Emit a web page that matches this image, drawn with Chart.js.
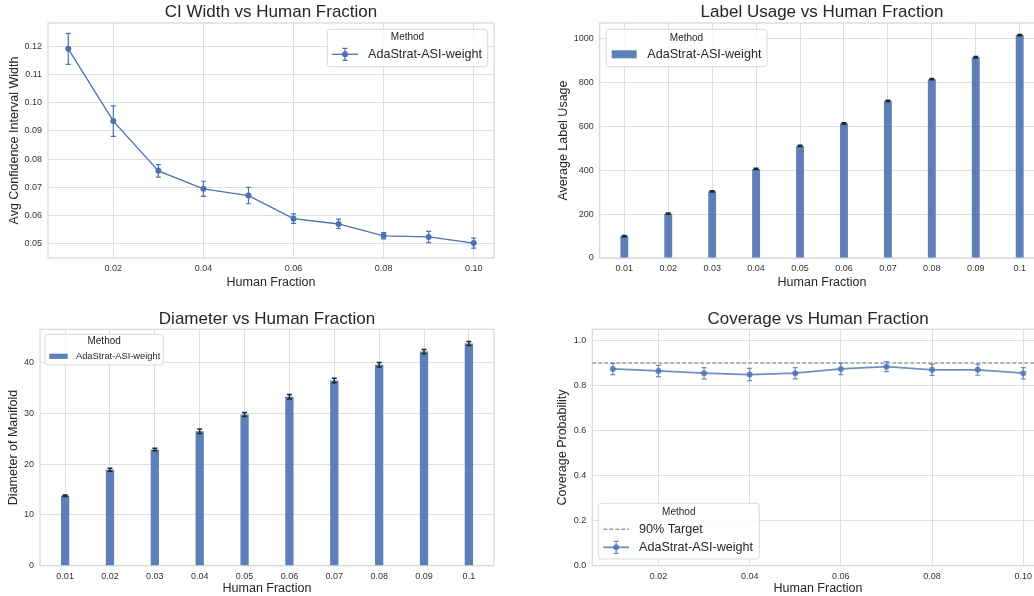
<!DOCTYPE html>
<html>
<head>
<meta charset="utf-8">
<script src="https://cdn.jsdelivr.net/npm/chart.js@4.4.1/dist/chart.umd.min.js"></script>
<style>
  html, body { margin: 0; padding: 0; width: 1034px; height: 596px; overflow: hidden; background: #fff; }
  canvas { position: absolute; }
</style>
</head>
<body>
<canvas id="ci-width" width="517" height="298" style="left:0;top:0"></canvas>
<canvas id="label-usage" width="540" height="298" style="left:520px;top:0"></canvas>
<canvas id="diameter" width="517" height="298" style="left:0;top:298px"></canvas>
<canvas id="coverage" width="540" height="298" style="left:520px;top:298px"></canvas>
<script>
// data
const fractions = [0.01, 0.02, 0.03, 0.04, 0.05, 0.06, 0.07, 0.08, 0.09, 0.10];
const fractionLabels = ["0.01", "0.02", "0.03", "0.04", "0.05", "0.06", "0.07", "0.08", "0.09", "0.1"];

const ciWidth = [0.1192, 0.0935, 0.0758, 0.0694, 0.0670, 0.0588, 0.0569, 0.0527, 0.0523, 0.0501];
const ciWidthErr = [0.0055, 0.0054, 0.0022, 0.0027, 0.0029, 0.0017, 0.0017, 0.0011, 0.0020, 0.0018];

const labelUsage = [100, 202, 304, 406, 511, 613, 716, 815, 915, 1016];
const labelUsageErr = [3, 3, 3, 3, 3, 3, 3, 3, 3, 3];

const diameter = [13.8, 18.9, 22.9, 26.5, 29.8, 33.3, 36.5, 39.6, 42.2, 43.8];
const diameterErr = [0.15, 0.3, 0.25, 0.45, 0.4, 0.45, 0.45, 0.45, 0.4, 0.4];

const coverage = [0.874, 0.865, 0.855, 0.849, 0.855, 0.874, 0.884, 0.870, 0.870, 0.855];
const coverageErr = [0.025, 0.025, 0.025, 0.027, 0.025, 0.025, 0.022, 0.025, 0.024, 0.025];
const targetCoverage = 0.9;

// tick values
const ciTicks = [0.05, 0.06, 0.07, 0.08, 0.09, 0.10, 0.11, 0.12];
const fractionTicks = [0.02, 0.04, 0.06, 0.08, 0.10];
const usageTicks = [0, 200, 400, 600, 800, 1000];
const diameterTicks = [0, 10, 20, 30, 40];
const coverageTicks = [0, 0.2, 0.4, 0.6, 0.8, 1.0];
const categoryTicks = fractions.map((f, i) => i);

const FONT = "'Liberation Sans', Arial, Helvetica, sans-serif";
const BLUE = "#4C72B0";
const BLUE_SOFT = "rgba(76,114,176,0.8)";
const BAR_BLUE = "rgba(76,114,176,0.9)";
const GRID = "#dedede";
const TEXT = "#262626";

Chart.defaults.font.family = FONT;
Chart.defaults.color = "#333";
Chart.defaults.animation = false;
Chart.defaults.responsive = false;
Chart.defaults.plugins.legend.display = false;
Chart.defaults.plugins.tooltip.enabled = false;

// light frame round the plot area (seaborn whitegrid spines)
const framePlugin = {
    id: "frame",
    beforeDatasetsDraw(chart) {
        const a = chart.chartArea;
        const ctx = chart.ctx;
        ctx.save();
        ctx.strokeStyle = "#d6d6d6";
        ctx.lineWidth = 1.2;
        ctx.strokeRect(a.left, a.top, a.right - a.left, a.bottom - a.top);
        ctx.restore();
    },
};

function errorBars(values, errors, color, width, cap) {
    return {
        id: "errorBars",
        afterDatasetsDraw(chart) {
            const ctx = chart.ctx;
            const y = chart.scales.y;
            const pts = chart.getDatasetMeta(0).data;
            ctx.save();
            ctx.strokeStyle = color;
            ctx.lineWidth = width;
            pts.forEach((el, i) => {
                const top = y.getPixelForValue(values[i] + errors[i]);
                const bot = y.getPixelForValue(values[i] - errors[i]);
                ctx.beginPath();
                ctx.moveTo(el.x, top);
                ctx.lineTo(el.x, bot);
                ctx.moveTo(el.x - cap, top);
                ctx.lineTo(el.x + cap, top);
                ctx.moveTo(el.x - cap, bot);
                ctx.lineTo(el.x + cap, bot);
                ctx.stroke();
            });
            ctx.restore();
        },
    };
}

function hLine(value, color, dash) {
    return {
        id: "hLine",
        beforeDatasetsDraw(chart) {
            const ctx = chart.ctx;
            const a = chart.chartArea;
            const py = chart.scales.y.getPixelForValue(value);
            ctx.save();
            ctx.strokeStyle = color;
            ctx.lineWidth = 1.5;
            ctx.setLineDash(dash);
            ctx.beginPath();
            ctx.moveTo(a.left, py);
            ctx.lineTo(a.right, py);
            ctx.stroke();
            ctx.restore();
        },
    };
}

// matplotlib-like legend box with a "Method" title
function boxLegend(spec) {
    return {
        id: "boxLegend",
        afterDraw(chart) {
            const ctx = chart.ctx;
            const a = chart.chartArea;
            const left = spec.corner[1] === "l" ? a.left + spec.dx : a.right - spec.dx - spec.w;
            const top = spec.corner[0] === "t" ? a.top + spec.dy : a.bottom - spec.dy - spec.h;
            ctx.save();
            ctx.beginPath();
            if (ctx.roundRect) ctx.roundRect(left, top, spec.w, spec.h, 3);
            else ctx.rect(left, top, spec.w, spec.h);
            ctx.fillStyle = "rgba(255,255,255,0.8)";
            ctx.fill();
            ctx.strokeStyle = "#d9d9d9";
            ctx.lineWidth = 1;
            ctx.stroke();

            ctx.fillStyle = TEXT;
            ctx.textBaseline = "middle";
            ctx.textAlign = "center";
            ctx.font = spec.titleSize + "px " + FONT;
            ctx.fillText("Method", left + spec.w / 2, top + spec.titleY);

            spec.rows.forEach((row) => {
                const y = top + row.y;
                const x0 = left + spec.hx0;
                const x1 = left + spec.hx1;
                const xm = (x0 + x1) / 2;
                if (row.kind === "bar") {
                    ctx.fillStyle = BAR_BLUE;
                    ctx.fillRect(x0, y - spec.barH / 2, x1 - x0, spec.barH);
                } else if (row.kind === "dash") {
                    ctx.strokeStyle = "#9a9a9a";
                    ctx.lineWidth = 1.5;
                    ctx.setLineDash([4, 2]);
                    ctx.beginPath();
                    ctx.moveTo(x0, y);
                    ctx.lineTo(x1, y);
                    ctx.stroke();
                    ctx.setLineDash([]);
                } else {
                    ctx.strokeStyle = row.color;
                    ctx.fillStyle = row.color;
                    ctx.lineWidth = row.width;
                    ctx.beginPath();
                    ctx.moveTo(x0, y);
                    ctx.lineTo(x1, y);
                    ctx.stroke();
                    ctx.lineWidth = 1.2;
                    ctx.beginPath();
                    ctx.moveTo(xm, y - 6);
                    ctx.lineTo(xm, y + 6);
                    ctx.moveTo(xm - 2.5, y - 6);
                    ctx.lineTo(xm + 2.5, y - 6);
                    ctx.moveTo(xm - 2.5, y + 6);
                    ctx.lineTo(xm + 2.5, y + 6);
                    ctx.stroke();
                    ctx.beginPath();
                    ctx.arc(xm, y, 3, 0, Math.PI * 2);
                    ctx.fill();
                }
                ctx.fillStyle = TEXT;
                ctx.textAlign = "left";
                ctx.font = spec.fontSize + "px " + FONT;
                ctx.fillText(row.label, left + spec.tx, y);
            });
            ctx.restore();
        },
    };
}

function titleOpts(text, padTop, padBottom) {
    return {
        display: true,
        text: text,
        fullSize: false,
        color: TEXT,
        font: { size: 17, weight: "normal", lineHeight: 1 },
        padding: { top: padTop, bottom: padBottom },
    };
}

function xScale(opts) {
    return {
        type: "linear",
        min: opts.min,
        max: opts.max,
        bounds: "data",
        offset: false,
        afterFit: (s) => { s.height = opts.height; },
        afterBuildTicks: (s) => { s.ticks = opts.ticks.map((v) => ({ value: v })); },
        grid: { color: GRID, lineWidth: 1, drawTicks: false, offset: false },
        border: { display: false },
        ticks: {
            autoSkip: false,
            maxRotation: 0,
            padding: 6,
            color: "#333",
            font: { size: 9, lineHeight: 1 },
            callback: opts.format,
        },
        title: {
            display: true,
            text: "Human Fraction",
            color: TEXT,
            font: { size: 12.5, lineHeight: 1 },
            padding: { top: 0, bottom: opts.titlePad },
        },
    };
}

function yScale(opts) {
    return {
        type: "linear",
        min: opts.min,
        max: opts.max,
        bounds: "data",
        afterFit: (s) => { s.width = opts.width; },
        afterBuildTicks: (s) => { s.ticks = opts.ticks.map((v) => ({ value: v })); },
        grid: { color: GRID, lineWidth: 1, drawTicks: false },
        border: { display: false },
        ticks: {
            autoSkip: false,
            padding: 6,
            color: "#333",
            font: { size: 9, lineHeight: 1 },
            callback: opts.format,
        },
        title: {
            display: true,
            text: opts.title,
            color: TEXT,
            font: { size: 12.5, lineHeight: 1 },
            padding: { top: opts.titlePad, bottom: 0 },
        },
    };
}

// CI width
new Chart(document.getElementById("ci-width"), {
    type: "line",
    data: {
        datasets: [{
            label: "AdaStrat-ASI-weight",
            data: fractions.map((f, i) => ({ x: f, y: ciWidth[i] })),
            borderColor: BLUE,
            backgroundColor: BLUE,
            borderWidth: 1.3,
            pointRadius: 3,
            pointBorderWidth: 0,
            tension: 0,
        }],
    },
    options: {
        layout: { padding: { left: 0, top: 0, right: 23, bottom: 0 } },
        plugins: { title: titleOpts("CI Width vs Human Fraction", 4, 2) },
        scales: {
            x: xScale({ min: 0.0055, max: 0.1045, height: 40, ticks: fractionTicks, titlePad: 9.5,
                        format: (v) => v.toFixed(2) }),
            y: yScale({ min: 0.0448, max: 0.1284, width: 48, ticks: ciTicks, titlePad: 8,
                        title: "Avg Confidence Interval Width", format: (v) => v.toFixed(2) }),
        },
    },
    plugins: [
        framePlugin,
        errorBars(ciWidth, ciWidthErr, BLUE, 1.2, 2.5),
        boxLegend({
            corner: "tr", dx: 6.3, dy: 6.3, w: 160.4, h: 37.4, titleY: 8, titleSize: 10,
            hx0: 4.7, hx1: 30.7, tx: 40.7, fontSize: 12.6,
            rows: [{ y: 25, kind: "errline", label: "AdaStrat-ASI-weight", color: BLUE, width: 1.3 }],
        }),
    ],
});

// label usage
new Chart(document.getElementById("label-usage"), {
    type: "bar",
    data: {
        datasets: [{
            label: "AdaStrat-ASI-weight",
            data: labelUsage.map((v, i) => ({ x: i, y: v })),
            backgroundColor: BAR_BLUE,
            borderWidth: 0,
            barPercentage: 0.18,
            categoryPercentage: 1,
        }],
    },
    options: {
        layout: { padding: { left: 0, top: 0, right: 15.7, bottom: 0 } },
        plugins: { title: titleOpts("Label Usage vs Human Fraction", 4, 2) },
        scales: {
            x: xScale({ min: -0.56, max: 9.56, height: 40, ticks: categoryTicks, titlePad: 9.5,
                        format: (v) => fractionLabels[v] }),
            y: yScale({ min: 0, max: 1071, width: 79.7, ticks: usageTicks, titlePad: 37,
                        title: "Average Label Usage", format: (v) => String(v) }),
        },
    },
    plugins: [
        framePlugin,
        errorBars(labelUsage, labelUsageErr, "#262626", 1.5, 2.5),
        boxLegend({
            corner: "tl", dx: 6.3, dy: 6.3, w: 161, h: 37.4, titleY: 8.7, titleSize: 10,
            hx0: 5.7, hx1: 30.7, tx: 41.3, fontSize: 12.6, barH: 8,
            rows: [{ y: 25, kind: "bar", label: "AdaStrat-ASI-weight" }],
        }),
    ],
});

// diameter
new Chart(document.getElementById("diameter"), {
    type: "bar",
    data: {
        datasets: [{
            label: "AdaStrat-ASI-weight",
            data: diameter.map((v, i) => ({ x: i, y: v })),
            backgroundColor: BAR_BLUE,
            borderWidth: 0,
            barPercentage: 0.185,
            categoryPercentage: 1,
        }],
    },
    options: {
        layout: { padding: { left: 0, top: 0, right: 23, bottom: 0 } },
        plugins: { title: titleOpts("Diameter vs Human Fraction", 12.5, 1.8) },
        scales: {
            x: xScale({ min: -0.56, max: 9.56, height: 30.3, ticks: categoryTicks, titlePad: 1,
                        format: (v) => fractionLabels[v] }),
            y: yScale({ min: 0, max: 46.6, width: 40, ticks: diameterTicks, titlePad: 7.5,
                        title: "Diameter of Manifold", format: (v) => String(v) }),
        },
    },
    plugins: [
        framePlugin,
        errorBars(diameter, diameterErr, "#262626", 1.5, 2.5),
        boxLegend({
            corner: "tl", dx: 5, dy: 5, w: 118.3, h: 30.7, titleY: 7.4, titleSize: 10,
            hx0: 4.3, hx1: 22.7, tx: 31, fontSize: 9.3, barH: 5.3,
            rows: [{ y: 22, kind: "bar", label: "AdaStrat-ASI-weight" }],
        }),
    ],
});

// coverage
new Chart(document.getElementById("coverage"), {
    type: "line",
    data: {
        datasets: [{
            label: "AdaStrat-ASI-weight",
            data: fractions.map((f, i) => ({ x: f, y: coverage[i] })),
            borderColor: BLUE_SOFT,
            backgroundColor: BLUE_SOFT,
            borderWidth: 1.8,
            pointRadius: 3,
            pointBorderWidth: 0,
            tension: 0,
        }],
    },
    options: {
        layout: { padding: { left: 0, top: 0, right: 16.2, bottom: 0 } },
        plugins: { title: titleOpts("Coverage vs Human Fraction", 12.5, 1.8) },
        scales: {
            x: xScale({ min: 0.0055, max: 0.1045, height: 30.3, ticks: fractionTicks, titlePad: 1,
                        format: (v) => v.toFixed(2) }),
            y: yScale({ min: 0, max: 1.05, width: 72.3, ticks: coverageTicks, titlePad: 36.5,
                        title: "Coverage Probability", format: (v) => v.toFixed(1) }),
        },
    },
    plugins: [
        framePlugin,
        hLine(targetCoverage, "#9a9a9a", [4, 2]),
        errorBars(coverage, coverageErr, BLUE_SOFT, 1.2, 2.5),
        boxLegend({
            corner: "bl", dx: 6, dy: 6.7, w: 161, h: 55.7, titleY: 9, titleSize: 10,
            hx0: 5, hx1: 30.7, tx: 40.7, fontSize: 12.6,
            rows: [
                { y: 26, kind: "dash", label: "90% Target" },
                { y: 44, kind: "errline", label: "AdaStrat-ASI-weight", color: BLUE_SOFT, width: 1.8 },
            ],
        }),
    ],
});
</script>
</body>
</html>
